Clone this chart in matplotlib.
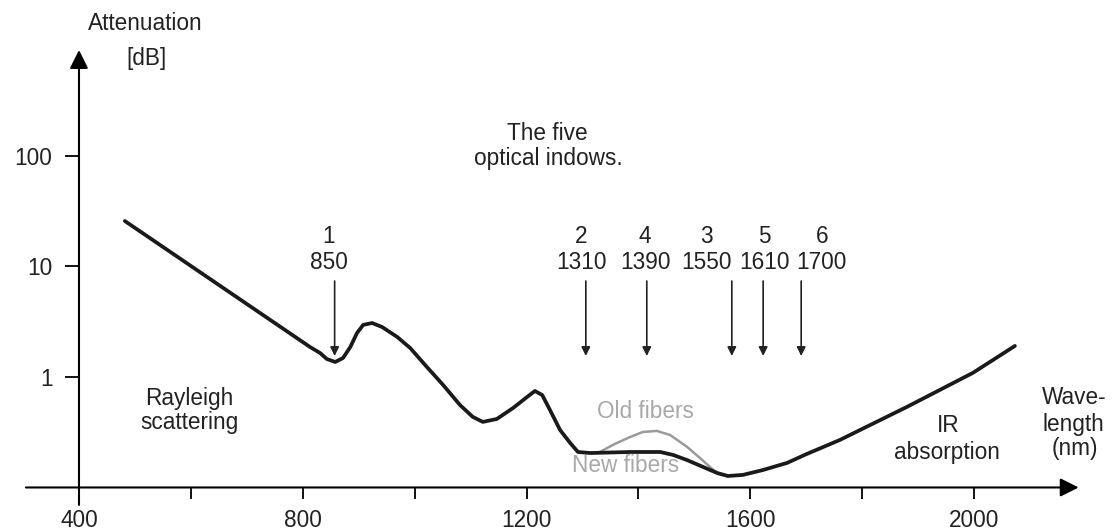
import numpy as np
import matplotlib
matplotlib.use('Agg')
import matplotlib.pyplot as plt

plt.rcParams['font.family'] = ['Liberation Sans', 'DejaVu Sans']

# attenuation curve, nm / dB
wl_new = [482, 813, 831, 843, 858, 872, 885, 897, 908, 924, 942, 969, 992,
          1022, 1051, 1081, 1104, 1122, 1147, 1176, 1201, 1215, 1228, 1242,
          1260, 1278, 1292, 1314, 1385, 1439, 1462, 1487, 1516, 1541, 1560,
          1587, 1623, 1666, 1701, 1760, 1880, 1998, 2073]
att_new = [25.8, 1.868, 1.648, 1.455, 1.367, 1.486, 1.868, 2.50, 2.96, 3.08,
           2.83, 2.30, 1.83, 1.23, 0.846, 0.558, 0.435, 0.392, 0.417, 0.524,
           0.659, 0.747, 0.687, 0.502, 0.331, 0.253, 0.2095, 0.205, 0.2095,
           0.2095, 0.197, 0.177, 0.153, 0.135, 0.127, 0.130, 0.144, 0.167,
           0.201, 0.269, 0.536, 1.09, 1.91]

# water peak bump of old fibers
wl_old = [1331, 1358, 1385, 1408, 1433, 1457, 1487, 1510, 1532, 1542]
att_old = [0.2095, 0.248, 0.286, 0.318, 0.325, 0.298, 0.233, 0.185, 0.147,
           0.135]

# optical windows
win_num = ['1', '2', '4', '3', '5', '6']
win_nm = ['850', '1310', '1390', '1550', '1610', '1700']
win_label_x = [847, 1298, 1412, 1521, 1625, 1728]
win_arrow_x = [857, 1306, 1415, 1567, 1623, 1691]

xticks = [400, 600, 800, 1000, 1200, 1400, 1600, 1800, 2000]
xticklabels = ['400', '', '800', '', '1200', '', '1600', '', '2000']
yticks = [1, 10, 100]
yticklabels = ['1', '10', '100']

FS = 16.3
W, H = 1112, 531
fig = plt.figure(figsize=(W / 100, H / 100), dpi=100)
ax = fig.add_axes([0, 0, 1, 1])
ax.set_yscale('log')
ax.set_xlim(258.8, 2246.6)
ax.set_ylim(10 ** -1.394, 10 ** 3.412)

for s in ax.spines.values():
    s.set_visible(False)
ax.spines['left'].set_position(('data', 400))
ax.spines['bottom'].set_position(('data', 0.1))

ax.set_xticks(xticks)
ax.set_xticklabels(xticklabels)
ax.set_yticks(yticks)
ax.set_yticklabels(yticklabels)
ax.minorticks_off()
ax.tick_params(axis='x', direction='out', length=8.6, width=1.3, pad=7,
               labelsize=FS, labelcolor='#222222')
ax.tick_params(axis='y', direction='out', length=10, width=1.3, pad=9,
               labelsize=FS, labelcolor='#222222')

# axis lines with arrow heads
ax.annotate('', xy=(400, 10 ** 2.959), xytext=(400, 10 ** -1.158),
            arrowprops=dict(arrowstyle='-|>', lw=1.5, color='k',
                            mutation_scale=28, shrinkA=0, shrinkB=0))
ax.annotate('', xy=(2187, 0.1), xytext=(305, 0.1),
            arrowprops=dict(arrowstyle='-|>', lw=1.5, color='k',
                            mutation_scale=28, shrinkA=0, shrinkB=0))

ax.plot(wl_old, att_old, color='#9a9a9a', lw=1.8, solid_capstyle='round')
ax.plot(wl_new, att_new, color='#1a1a1a', lw=2.7, solid_joinstyle='round',
        solid_capstyle='round')

for i in range(len(win_num)):
    ax.annotate('', xy=(win_arrow_x[i], 1.55), xytext=(win_arrow_x[i], 7.39),
                arrowprops=dict(arrowstyle='-|>', lw=1.2, color='#222222',
                                mutation_scale=13, shrinkA=0, shrinkB=0))
    ax.text(win_label_x[i], 18.5, win_num[i], ha='center', va='center',
            fontsize=FS, color='#222222')
    ax.text(win_label_x[i], 10.8, win_nm[i], ha='center', va='center',
            fontsize=FS, color='#222222')


def put(px, py, s, color='#222222'):
    ax.text(px / W, 1 - py / H, s, transform=ax.transAxes, ha='center',
            va='center', fontsize=FS, color=color)


put(145, 24, 'Attenuation')
put(146, 58, '[dB]')
put(547, 133, 'The five')
put(548, 158, 'optical indows.')
put(189, 398, 'Rayleigh')
put(189, 423, 'scattering')
put(645, 411, 'Old fibers', '#a8a8a8')
put(626, 465, 'New fibers', '#a8a8a8')
put(948, 425, 'IR')
put(947, 452, 'absorption')
put(1074, 398, 'Wave-')
put(1073, 424, 'length')
put(1075, 449, '(nm)')

fig.savefig('out.png', dpi=100)
